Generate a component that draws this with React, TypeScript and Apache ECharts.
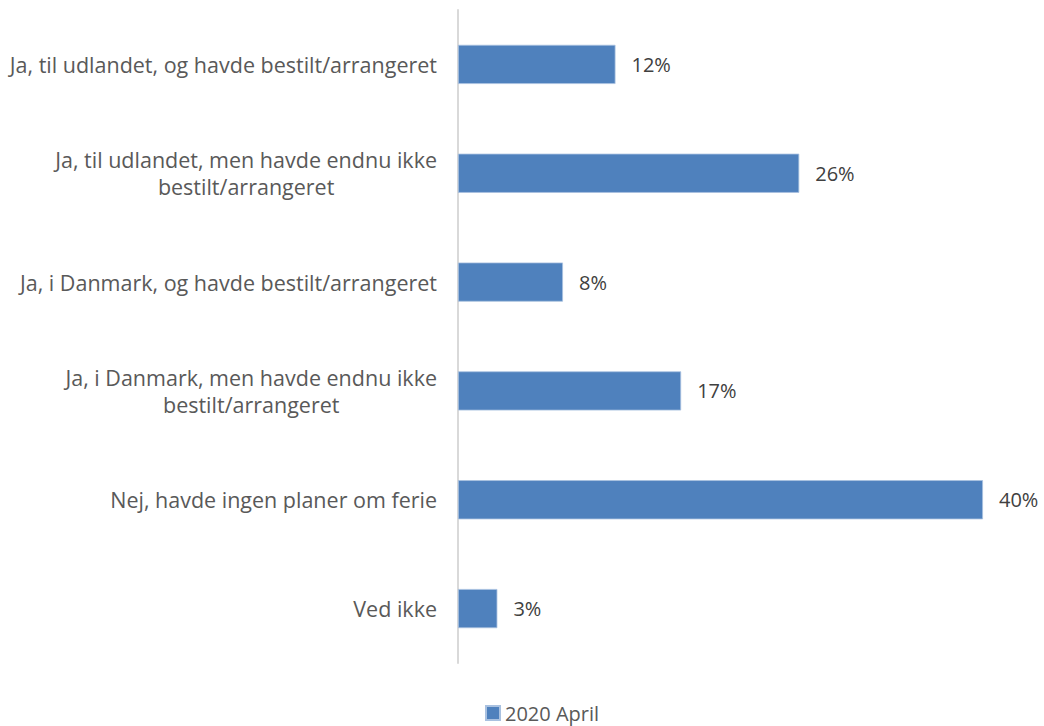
import React, { useEffect, useRef } from "react";
import * as echarts from "echarts";

const categories = [
  "Ja, til udlandet, og havde bestilt/arrangeret",
  "Ja, til udlandet, men havde endnu ikke\nbestilt/arrangeret",
  "Ja, i Danmark, og havde bestilt/arrangeret",
  "Ja, i Danmark, men havde endnu ikke\nbestilt/arrangeret",
  "Nej, havde ingen planer om ferie",
  "Ved ikke",
];
const values = [12, 26, 8, 17, 40, 3];
const seriesName = "2020 April";

const FONT = "Open Sans";

export default function App() {
  const ref = useRef<HTMLDivElement>(null);
  useEffect(() => {
    if (!ref.current) return;
    const chart = echarts.init(ref.current, undefined, { renderer: "svg" });
    chart.setOption({
      animation: false,
      backgroundColor: "#ffffff",
      textStyle: { fontFamily: FONT },
      grid: { left: 458, right: 61, top: 10, bottom: 63, containLabel: false },
      legend: {
        top: 702,
        left: 485,
        padding: 0,
        itemWidth: 14,
        itemHeight: 14,
        itemGap: 7,
        icon: "rect",
        textStyle: {
          fontFamily: FONT,
          fontSize: 20,
          lineHeight: 22,
          color: "#595959",
          padding: [0, 0, 0, 0],
        },
        data: [seriesName],
      },
      xAxis: {
        type: "value",
        min: 0,
        max: 40,
        show: false,
      },
      yAxis: {
        type: "category",
        inverse: true,
        data: categories,
        axisLine: { show: true, lineStyle: { color: "#d9d9d9", width: 2 } },
        axisTick: { show: false },
        splitLine: { show: false },
        axisLabel: {
          margin: 21,
          align: "right",
          fontFamily: FONT,
          fontSize: 21.5,
          color: "#595959",
          lineHeight: 27,
          formatter: (v: string) =>
            v
              .split("\n")
              .map((l) => `{c|${l}}`)
              .join("\n"),
          rich: {
            c: { align: "center", fontFamily: FONT, fontSize: 21.5, color: "#595959", lineHeight: 27 },
          },
        },
      },
      series: [
        {
          name: seriesName,
          type: "bar",
          data: values,
          barWidth: "36%",
          itemStyle: { color: "#4f81bd", borderColor: "#a9c1e0", borderWidth: 0.8 },
          label: {
            show: true,
            position: "right",
            distance: 16,
            formatter: "{c}%",
            fontFamily: FONT,
            fontSize: 20,
            color: "#404040",
          },
        },
      ],
    });
    return () => chart.dispose();
  }, []);
  return (
    <div
      ref={ref}
      style={{ position: "absolute", left: 0, top: 0, width: 1044, height: 726 }}
    />
  );
}
